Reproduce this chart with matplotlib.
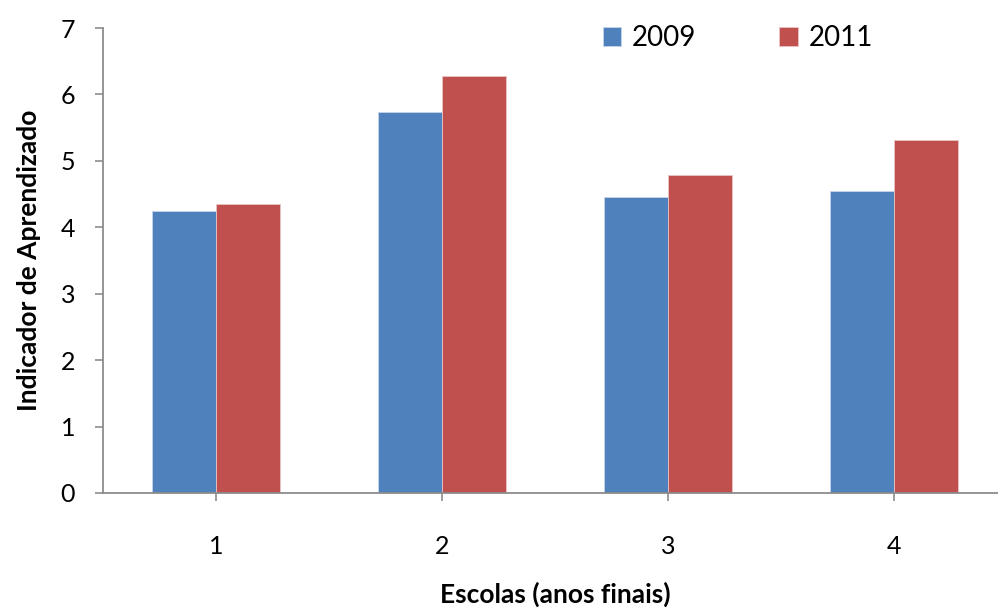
import numpy as np
import matplotlib
matplotlib.use('Agg')
import matplotlib.pyplot as plt

plt.rcParams['font.family'] = ['Lato', 'DejaVu Sans']

escolas = ['1', '2', '3', '4']
anos = ['2009', '2011']
ind_2009 = [4.25, 5.73, 4.46, 4.54]
ind_2011 = [4.35, 6.27, 4.78, 5.31]
cores = ['#4f81bd', '#c0504d']

fig = plt.figure(figsize=(9.98, 6.1), dpi=100)
ax = fig.add_axes([103 / 998, 1 - 493 / 610, 904 / 998, 465 / 610])

x = np.arange(len(escolas))
w = 0.283
ax.bar(x - w / 2, ind_2009, w, color=cores[0], label=anos[0],
       edgecolor='#c6d4e8', linewidth=0.6)
ax.bar(x + w / 2, ind_2011, w, color=cores[1], label=anos[1],
       edgecolor='#e8c4c3', linewidth=0.6)

ax.set_xlim(-0.5, 3.5)
ax.set_ylim(0, 7)
ax.set_xticks(x)
ax.set_xticklabels(escolas)
ax.set_yticks(range(0, 8))

for s in ['top', 'right']:
    ax.spines[s].set_visible(False)
for s in ['left', 'bottom']:
    ax.spines[s].set_color('#8c8c8c')
    ax.spines[s].set_linewidth(1.3)
ax.tick_params(axis='both', colors='#8c8c8c', length=6, width=1.2,
               labelcolor='black', labelsize=18)
ax.tick_params(axis='x', pad=24)
ax.tick_params(axis='y', pad=14)

ax.set_ylabel('Indicador de Aprendizado', fontsize=19, fontweight='bold',
              labelpad=14)
ax.set_xlabel('Escolas (anos finais)', fontsize=19, fontweight='bold',
              va='center')
# rótulo do eixo x colado na borda inferior da figura
ax.xaxis.set_label_coords(0.5, -(594 - 493) / 465)

ax.legend(loc='upper left', bbox_to_anchor=(0.525, 1.06), ncol=2,
          frameon=False, fontsize=20, handlelength=0.65, handleheight=0.65,
          handletextpad=0.4, columnspacing=3.0)

fig.savefig('out.png', dpi=100)
